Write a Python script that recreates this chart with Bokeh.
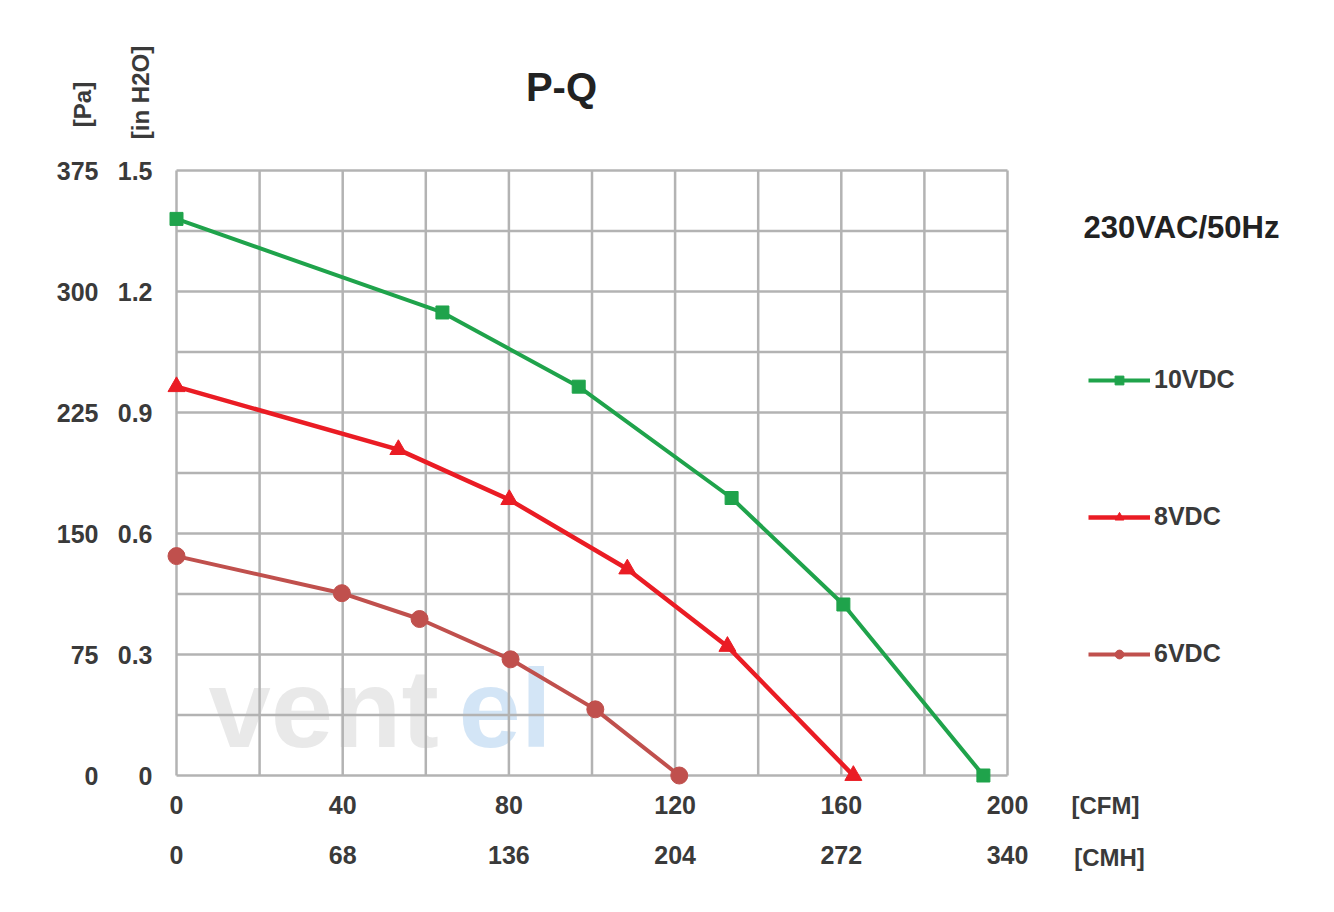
from bokeh.plotting import figure
from bokeh.models import (LinearAxis, Range1d, FixedTicker, Label,
                          Legend, LegendItem, NumeralTickFormatter)
from bokeh.embed import file_html
from bokeh.resources import INLINE

# ---------------- data ----------------
cfm_10 = [0, 64.0, 96.8, 133.6, 160.5, 194.2]
pa_10 = [345, 287, 241, 172, 106, 0]

cfm_8 = [0, 53.4, 80.1, 108.5, 132.6, 162.9]
pa_8 = [241, 202, 171, 128, 80, 0]

cfm_6 = [0, 39.8, 58.5, 80.4, 100.8, 121.0]
pa_6 = [136, 113, 97, 72, 41, 0]

cfm_ticks = [0, 40, 80, 120, 160, 200]
cmh_ticks = [0, 68, 136, 204, 272, 340]
pa_ticks = [0, 75, 150, 225, 300, 375]
inh2o_ticks = [0, 0.3, 0.6, 0.9, 1.2, 1.5]
grid_x = [0, 20, 40, 60, 80, 100, 120, 140, 160, 180, 200]
grid_y = [0, 37.5, 75, 112.5, 150, 187.5, 225, 262.5, 300, 337.5, 375]

series_names = ["10VDC", "8VDC", "6VDC"]
colors = ["#1fa34b", "#ea1c24", "#c0504d"]

# ---------------- geometry: chart area inside the page ----------------
FL, FR, FT, FB = 176, 1007, 170, 775
W, H = 1334, 912
XMAX, YMAX = 200.0, 375.0


def px2x(px):
    return (px - FL) * XMAX / (FR - FL)


def px2y(py):
    return (FB - py) * YMAX / (FB - FT)


p = figure(width=W, height=H,
           x_range=Range1d(px2x(0), px2x(W)), y_range=Range1d(px2y(H), px2y(0)),
           x_axis_location=None, y_axis_location=None,
           output_backend="svg", toolbar_location=None, min_border=0)
p.grid.visible = False
p.outline_line_color = None
p.background_fill_color = "white"
p.border_fill_color = "white"
# in H2O = Pa / 250 ; CMH = CFM * 1.7
p.extra_y_ranges = {"inh2o": Range1d(px2y(H) / 250.0, px2y(0) / 250.0)}
p.extra_x_ranges = {"cmh": Range1d(px2x(0) * 1.7, px2x(W) * 1.7)}

FONT = "Liberation Sans"
TXT = "#3a3a3a"

# grid (also forms the border of the chart area)
GRID = "#b3b3b3"
p.segment(x0=grid_x, x1=grid_x, y0=[0] * len(grid_x), y1=[YMAX] * len(grid_x),
          line_color=GRID, line_width=2.5)
p.segment(x0=[0] * len(grid_y), x1=[XMAX] * len(grid_y), y0=grid_y, y1=grid_y,
          line_color=GRID, line_width=2.5)


def style_axis(ax, standoff):
    ax.axis_line_color = None
    ax.major_tick_line_color = None
    ax.minor_tick_line_color = None
    ax.major_tick_out = 0
    ax.major_tick_in = 0
    ax.major_label_standoff = standoff
    ax.major_label_text_font = FONT
    ax.major_label_text_font_style = "bold"
    ax.major_label_text_font_size = "25px"
    ax.major_label_text_color = TXT


ax_in = LinearAxis(y_range_name="inh2o", ticker=FixedTicker(ticks=inh2o_ticks),
                   formatter=NumeralTickFormatter(format="0.[0]"), fixed_location=0)
style_axis(ax_in, 24)
p.add_layout(ax_in, "left")

ax_pa = LinearAxis(ticker=FixedTicker(ticks=pa_ticks), fixed_location=0)
style_axis(ax_pa, 78)
p.add_layout(ax_pa, "left")

ax_cfm = LinearAxis(ticker=FixedTicker(ticks=cfm_ticks), fixed_location=0)
style_axis(ax_cfm, 20)
p.add_layout(ax_cfm, "below")

ax_cmh = LinearAxis(x_range_name="cmh", ticker=FixedTicker(ticks=cmh_ticks),
                    fixed_location=0)
style_axis(ax_cmh, 70)
p.add_layout(ax_cmh, "below")

# watermark
p.add_layout(Label(x=px2x(208), y=px2y(770), text="vent",
                   text_font=FONT, text_font_style="bold",
                   text_font_size="112px", text_color="#d4d4d4",
                   text_alpha=0.5, level="underlay"))
p.add_layout(Label(x=px2x(458), y=px2y(770), text="el",
                   text_font=FONT, text_font_style="bold",
                   text_font_size="112px", text_color="#a8cbee",
                   text_alpha=0.5, level="underlay"))

# ---------------- series ----------------
l10 = p.line(cfm_10, pa_10, line_color=colors[0], line_width=4)
s10 = p.scatter(cfm_10, pa_10, marker="square", size=13, color=colors[0])
l8 = p.line(cfm_8, pa_8, line_color=colors[1], line_width=4.5)
s8 = p.scatter(cfm_8, pa_8, marker="triangle", size=17, color=colors[1])
l6 = p.line(cfm_6, pa_6, line_color=colors[2], line_width=4)
s6 = p.scatter(cfm_6, pa_6, marker="circle", size=17, color=colors[2])
items = [LegendItem(label=series_names[0], renderers=[l10, s10]),
         LegendItem(label=series_names[1], renderers=[l8, s8]),
         LegendItem(label=series_names[2], renderers=[l6, s6])]

legend = Legend(items=items, location=(1088, H - 668),
                glyph_width=62, glyph_height=22, spacing=108,
                padding=0, margin=0, label_standoff=4,
                label_text_font=FONT, label_text_font_style="bold",
                label_text_font_size="25px", label_text_color=TXT,
                border_line_color=None, background_fill_alpha=0)
p.add_layout(legend, "center")


# ---------------- texts ----------------
def lab(x, y, text, size, angle=0, align="center", color=TXT):
    p.add_layout(Label(x=px2x(x), y=px2y(y), text=text,
                       text_font=FONT, text_font_style="bold",
                       text_font_size=size, text_color=color,
                       text_align=align, text_baseline="middle", angle=angle))


lab(561, 86, "P-Q", "40px", color="#222222")
lab(1181, 227, "230VAC/50Hz", "31px", color="#222222")
lab(82, 104, "[Pa]", "24px", angle=1.5708)
lab(140, 92, "[in H2O]", "24px", angle=1.5708)
lab(1105, 805, "[CFM]", "24px")
lab(1109, 857, "[CMH]", "24px")

open("out.html", "w").write(file_html(p, INLINE))
